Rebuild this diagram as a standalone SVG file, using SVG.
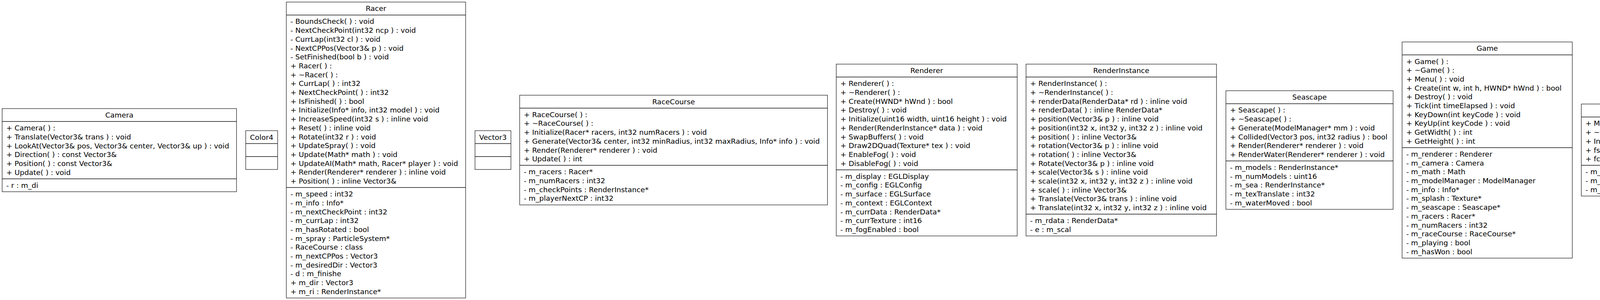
<svg xmlns="http://www.w3.org/2000/svg" width="6464" height="768" viewBox="0 0 6464 768">
<style>
.box{fill:#fff;stroke:#222;stroke-width:1.3}
.sep{stroke:#111;stroke-width:1.5}
text{font-family:"DejaVu Sans","Noto Sans",sans-serif;font-size:18.4px;fill:#000}
.title{text-anchor:middle}
</style>
<rect x="0" y="0" width="6464" height="768" fill="#fff"/>

<g id="Camera">
<rect class="box" x="5.5" y="278" width="600" height="212.8"/>
<line class="sep" x1="5.5" y1="311.1" x2="605.5" y2="311.1"/>
<line class="sep" x1="5.5" y1="457.7" x2="605.5" y2="457.7"/>
<text class="title" x="305.5" y="301">Camera</text>
<text x="16" y="334.1"><tspan x="16">+ Camera( ) :</tspan><tspan x="16" dy="22.7">+ Translate(Vector3&amp; trans ) : void</tspan><tspan x="16" dy="22.7">+ LookAt(Vector3&amp; pos, Vector3&amp; center, Vector3&amp; up ) : void</tspan><tspan x="16" dy="22.7">+ Direction( ) : const Vector3&amp;</tspan><tspan x="16" dy="22.7">+ Position( ) : const Vector3&amp;</tspan><tspan x="16" dy="22.7">+ Update( ) : void</tspan></text>
<text x="16" y="480.7">- r : m_di</text>
</g>

<g id="Color4">
<rect class="box" x="629" y="334.5" width="81.7" height="99.3"/>
<line class="sep" x1="629" y1="367.6" x2="710.7" y2="367.6"/>
<line class="sep" x1="629" y1="400.7" x2="710.7" y2="400.7"/>
<text class="title" x="669.85" y="357.5">Color4</text>
</g>

<g id="Racer">
<rect class="box" x="733" y="5.3" width="459" height="757.6"/>
<line class="sep" x1="733" y1="38.4" x2="1192" y2="38.4"/>
<line class="sep" x1="733" y1="480.1" x2="1192" y2="480.1"/>
<text class="title" x="962.5" y="28.3">Racer</text>
<text x="743.5" y="61.4"><tspan x="743.5">- BoundsCheck( ) : void</tspan><tspan x="743.5" dy="22.7">- NextCheckPoint(int32 ncp ) : void</tspan><tspan x="743.5" dy="22.7">- CurrLap(int32 cl ) : void</tspan><tspan x="743.5" dy="22.7">- NextCPPos(Vector3&amp; p ) : void</tspan><tspan x="743.5" dy="22.7">- SetFinished(bool b ) : void</tspan><tspan x="743.5" dy="22.7">+ Racer( ) :</tspan><tspan x="743.5" dy="22.7">+ ~Racer( ) :</tspan><tspan x="743.5" dy="22.7">+ CurrLap( ) : int32</tspan><tspan x="743.5" dy="22.7">+ NextCheckPoint( ) : int32</tspan><tspan x="743.5" dy="22.7">+ IsFinished( ) : bool</tspan><tspan x="743.5" dy="22.7">+ Initialize(Info* info, int32 model ) : void</tspan><tspan x="743.5" dy="22.7">+ IncreaseSpeed(int32 s ) : inline void</tspan><tspan x="743.5" dy="22.7">+ Reset( ) : inline void</tspan><tspan x="743.5" dy="22.7">+ Rotate(int32 r ) : void</tspan><tspan x="743.5" dy="22.7">+ UpdateSpray( ) : void</tspan><tspan x="743.5" dy="22.7">+ Update(Math* math ) : void</tspan><tspan x="743.5" dy="22.7">+ UpdateAI(Math* math, Racer* player ) : void</tspan><tspan x="743.5" dy="22.7">+ Render(Renderer* renderer ) : inline void</tspan><tspan x="743.5" dy="22.7">+ Position( ) : inline Vector3&amp;</tspan></text>
<text x="743.5" y="503.1"><tspan x="743.5">- m_speed : int32</tspan><tspan x="743.5" dy="22.7">- m_info : Info*</tspan><tspan x="743.5" dy="22.7">- m_nextCheckPoint : int32</tspan><tspan x="743.5" dy="22.7">- m_currLap : int32</tspan><tspan x="743.5" dy="22.7">- m_hasRotated : bool</tspan><tspan x="743.5" dy="22.7">- m_spray : ParticleSystem*</tspan><tspan x="743.5" dy="22.7">- RaceCourse : class</tspan><tspan x="743.5" dy="22.7">- m_nextCPPos : Vector3</tspan><tspan x="743.5" dy="22.7">- m_desiredDir : Vector3</tspan><tspan x="743.5" dy="22.7">- d : m_finishe</tspan><tspan x="743.5" dy="22.7">+ m_dir : Vector3</tspan><tspan x="743.5" dy="22.7">+ m_ri : RenderInstance*</tspan></text>
</g>

<g id="Vector3">
<rect class="box" x="1216" y="334.5" width="92" height="99.3"/>
<line class="sep" x1="1216" y1="367.6" x2="1308" y2="367.6"/>
<line class="sep" x1="1216" y1="400.7" x2="1308" y2="400.7"/>
<text class="title" x="1262" y="357.5">Vector3</text>
</g>

<g id="RaceCourse">
<rect class="box" x="1330.4" y="243.65" width="788" height="280.9"/>
<line class="sep" x1="1330.4" y1="276.75" x2="2118.4" y2="276.75"/>
<line class="sep" x1="1330.4" y1="423.35" x2="2118.4" y2="423.35"/>
<text class="title" x="1724.4" y="266.65">RaceCourse</text>
<text x="1340.9" y="299.75"><tspan x="1340.9">+ RaceCourse( ) :</tspan><tspan x="1340.9" dy="22.7">+ ~RaceCourse( ) :</tspan><tspan x="1340.9" dy="22.7">+ Initialize(Racer* racers, int32 numRacers ) : void</tspan><tspan x="1340.9" dy="22.7">+ Generate(Vector3&amp; center, int32 minRadius, int32 maxRadius, Info* info ) : void</tspan><tspan x="1340.9" dy="22.7">+ Render(Renderer* renderer ) : void</tspan><tspan x="1340.9" dy="22.7">+ Update( ) : int</tspan></text>
<text x="1340.9" y="446.35"><tspan x="1340.9">- m_racers : Racer*</tspan><tspan x="1340.9" dy="22.7">- m_numRacers : int32</tspan><tspan x="1340.9" dy="22.7">- m_checkPoints : RenderInstance*</tspan><tspan x="1340.9" dy="22.7">- m_playerNextCP : int32</tspan></text>
</g>

<g id="Renderer">
<rect class="box" x="2140.8" y="164.2" width="463.2" height="439.8"/>
<line class="sep" x1="2140.8" y1="197.3" x2="2604" y2="197.3"/>
<line class="sep" x1="2140.8" y1="434.7" x2="2604" y2="434.7"/>
<text class="title" x="2372.4" y="187.2">Renderer</text>
<text x="2151.3" y="220.3"><tspan x="2151.3">+ Renderer( ) :</tspan><tspan x="2151.3" dy="22.7">+ ~Renderer( ) :</tspan><tspan x="2151.3" dy="22.7">+ Create(HWND* hWnd ) : bool</tspan><tspan x="2151.3" dy="22.7">+ Destroy( ) : void</tspan><tspan x="2151.3" dy="22.7">+ Initialize(uint16 width, uint16 height ) : void</tspan><tspan x="2151.3" dy="22.7">+ Render(RenderInstance* data ) : void</tspan><tspan x="2151.3" dy="22.7">+ SwapBuffers( ) : void</tspan><tspan x="2151.3" dy="22.7">+ Draw2DQuad(Texture* tex ) : void</tspan><tspan x="2151.3" dy="22.7">+ EnableFog( ) : void</tspan><tspan x="2151.3" dy="22.7">+ DisableFog( ) : void</tspan></text>
<text x="2151.3" y="457.7"><tspan x="2151.3">- m_display : EGLDisplay</tspan><tspan x="2151.3" dy="22.7">- m_config : EGLConfig</tspan><tspan x="2151.3" dy="22.7">- m_surface : EGLSurface</tspan><tspan x="2151.3" dy="22.7">- m_context : EGLContext</tspan><tspan x="2151.3" dy="22.7">- m_currData : RenderData*</tspan><tspan x="2151.3" dy="22.7">- m_currTexture : int16</tspan><tspan x="2151.3" dy="22.7">- m_fogEnabled : bool</tspan></text>
</g>

<g id="RenderInstance">
<rect class="box" x="2626.6" y="164.2" width="487.7" height="439.8"/>
<line class="sep" x1="2626.6" y1="197.3" x2="3114.3" y2="197.3"/>
<line class="sep" x1="2626.6" y1="548.2" x2="3114.3" y2="548.2"/>
<text class="title" x="2870.45" y="187.2">RenderInstance</text>
<text x="2637.1" y="220.3"><tspan x="2637.1">+ RenderInstance( ) :</tspan><tspan x="2637.1" dy="22.7">+ ~RenderInstance( ) :</tspan><tspan x="2637.1" dy="22.7">+ renderData(RenderData* rd ) : inline void</tspan><tspan x="2637.1" dy="22.7">+ renderData( ) : inline RenderData*</tspan><tspan x="2637.1" dy="22.7">+ position(Vector3&amp; p ) : inline void</tspan><tspan x="2637.1" dy="22.7">+ position(int32 x, int32 y, int32 z ) : inline void</tspan><tspan x="2637.1" dy="22.7">+ position( ) : inline Vector3&amp;</tspan><tspan x="2637.1" dy="22.7">+ rotation(Vector3&amp; p ) : inline void</tspan><tspan x="2637.1" dy="22.7">+ rotation( ) : inline Vector3&amp;</tspan><tspan x="2637.1" dy="22.7">+ Rotate(Vector3&amp; p ) : inline void</tspan><tspan x="2637.1" dy="22.7">+ scale(Vector3&amp; s ) : inline void</tspan><tspan x="2637.1" dy="22.7">+ scale(int32 x, int32 y, int32 z ) : inline void</tspan><tspan x="2637.1" dy="22.7">+ scale( ) : inline Vector3&amp;</tspan><tspan x="2637.1" dy="22.7">+ Translate(Vector3&amp; trans ) : inline void</tspan><tspan x="2637.1" dy="22.7">+ Translate(int32 x, int32 y, int32 z ) : inline void</tspan></text>
<text x="2637.1" y="571.2"><tspan x="2637.1">- m_rdata : RenderData*</tspan><tspan x="2637.1" dy="22.7">- e : m_scal</tspan></text>
</g>

<g id="Seascape">
<rect class="box" x="3138.3" y="232.3" width="428.1" height="303.6"/>
<line class="sep" x1="3138.3" y1="265.4" x2="3566.4" y2="265.4"/>
<line class="sep" x1="3138.3" y1="412" x2="3566.4" y2="412"/>
<text class="title" x="3352.35" y="255.3">Seascape</text>
<text x="3148.8" y="288.4"><tspan x="3148.8">+ Seascape( ) :</tspan><tspan x="3148.8" dy="22.7">+ ~Seascape( ) :</tspan><tspan x="3148.8" dy="22.7">+ Generate(ModelManager* mm ) : void</tspan><tspan x="3148.8" dy="22.7">+ Collided(Vector3 pos, int32 radius ) : bool</tspan><tspan x="3148.8" dy="22.7">+ Render(Renderer* renderer ) : void</tspan><tspan x="3148.8" dy="22.7">+ RenderWater(Renderer* renderer ) : void</tspan></text>
<text x="3148.8" y="435"><tspan x="3148.8">- m_models : RenderInstance*</tspan><tspan x="3148.8" dy="22.7">- m_numModels : uint16</tspan><tspan x="3148.8" dy="22.7">- m_sea : RenderInstance*</tspan><tspan x="3148.8" dy="22.7">- m_texTranslate : int32</tspan><tspan x="3148.8" dy="22.7">- m_waterMoved : bool</tspan></text>
</g>

<g id="Game">
<rect class="box" x="3589.4" y="107.45" width="435.7" height="553.3"/>
<line class="sep" x1="3589.4" y1="140.55" x2="4025.1" y2="140.55"/>
<line class="sep" x1="3589.4" y1="377.95" x2="4025.1" y2="377.95"/>
<text class="title" x="3807.25" y="130.45">Game</text>
<text x="3599.9" y="163.55"><tspan x="3599.9">+ Game( ) :</tspan><tspan x="3599.9" dy="22.7">+ ~Game( ) :</tspan><tspan x="3599.9" dy="22.7">+ Menu( ) : void</tspan><tspan x="3599.9" dy="22.7">+ Create(int w, int h, HWND* hWnd ) : bool</tspan><tspan x="3599.9" dy="22.7">+ Destroy( ) : void</tspan><tspan x="3599.9" dy="22.7">+ Tick(int timeElapsed ) : void</tspan><tspan x="3599.9" dy="22.7">+ KeyDown(int keyCode ) : void</tspan><tspan x="3599.9" dy="22.7">+ KeyUp(int keyCode ) : void</tspan><tspan x="3599.9" dy="22.7">+ GetWidth( ) : int</tspan><tspan x="3599.9" dy="22.7">+ GetHeight( ) : int</tspan></text>
<text x="3599.9" y="400.95"><tspan x="3599.9">- m_renderer : Renderer</tspan><tspan x="3599.9" dy="22.7">- m_camera : Camera</tspan><tspan x="3599.9" dy="22.7">- m_math : Math</tspan><tspan x="3599.9" dy="22.7">- m_modelManager : ModelManager</tspan><tspan x="3599.9" dy="22.7">- m_info : Info*</tspan><tspan x="3599.9" dy="22.7">- m_splash : Texture*</tspan><tspan x="3599.9" dy="22.7">- m_seascape : Seascape*</tspan><tspan x="3599.9" dy="22.7">- m_racers : Racer*</tspan><tspan x="3599.9" dy="22.7">- m_numRacers : int32</tspan><tspan x="3599.9" dy="22.7">- m_raceCourse : RaceCourse*</tspan><tspan x="3599.9" dy="22.7">- m_playing : bool</tspan><tspan x="3599.9" dy="22.7">- m_hasWon : bool</tspan></text>
</g>

<g id="Math">
<rect class="box" x="4048.2" y="266.35" width="294.3" height="235.5"/>
<line class="sep" x1="4048.2" y1="299.45" x2="4342.5" y2="299.45"/>
<line class="sep" x1="4048.2" y1="423.35" x2="4342.5" y2="423.35"/>
<text class="title" x="4195.35" y="289.35">Math</text>
<text x="4058.7" y="322.45"><tspan x="4058.7">+ Math( ) :</tspan><tspan x="4058.7" dy="22.7">+ ~Math( ) :</tspan><tspan x="4058.7" dy="22.7">+ Initialize( ) : void</tspan><tspan x="4058.7" dy="22.7">+ fsinf(int32 f ) : inline int32</tspan><tspan x="4058.7" dy="22.7">+ fcosf(int32 f ) : inline int32</tspan></text>
<text x="4058.7" y="446.35"><tspan x="4058.7">- m_sinTable : int32*</tspan><tspan x="4058.7" dy="22.7">- m_cosTable : int32*</tspan><tspan x="4058.7" dy="22.7">- m_accuracy : float</tspan></text>
</g>

<g id="RenderDataManager">
<rect class="box" x="4365.5" y="277.7" width="572.9" height="212.8"/>
<line class="sep" x1="4365.5" y1="310.8" x2="4938.4" y2="310.8"/>
<line class="sep" x1="4365.5" y1="457.4" x2="4938.4" y2="457.4"/>
<text class="title" x="4651.95" y="300.7">RenderDataManager</text>
<text x="4376" y="333.8"><tspan x="4376">+ RenderDataManager( ) :</tspan><tspan x="4376" dy="22.7">+ ~RenderDataManager( ) :</tspan><tspan x="4376" dy="22.7">+ AddData(RenderData* data ) : inline void</tspan><tspan x="4376" dy="22.7">+ GetData(RenderData* desiredData ) : inline RenderData*</tspan><tspan x="4376" dy="22.7">+ ReleaseData(RenderData* data ) : inline void</tspan><tspan x="4376" dy="22.7">+ ClearData(RenderData* data ) : inline void</tspan></text>
<text x="4376" y="480.4">- m_renderDataList : RenderData*</text>
</g>

<g id="Texture">
<rect class="box" x="4962.4" y="289.05" width="252.3" height="190.1"/>
<line class="sep" x1="4962.4" y1="322.15" x2="5214.7" y2="322.15"/>
<line class="sep" x1="4962.4" y1="446.05" x2="5214.7" y2="446.05"/>
<text class="title" x="5088.55" y="312.05">Texture</text>
<text x="4972.9" y="345.15"><tspan x="4972.9">+ Texture( ) :</tspan><tspan x="4972.9" dy="22.7">+ ~Texture( ) :</tspan><tspan x="4972.9" dy="22.7">+ id( ) : inline GLuint</tspan><tspan x="4972.9" dy="22.7">+ Load(uint16 id ) : void</tspan><tspan x="4972.9" dy="22.7">+ Bind( ) : inline void</tspan></text>
<text x="4972.9" y="469.05">- m_id : GLuint</text>
</g>

<g id="ParticleSystem">
<rect class="box" x="5237.7" y="209.6" width="749.3" height="349"/>
<line class="sep" x1="5237.7" y1="242.7" x2="5987" y2="242.7"/>
<line class="sep" x1="5237.7" y1="434.7" x2="5987" y2="434.7"/>
<text class="title" x="5612.35" y="232.6">ParticleSystem</text>
<text x="5248.2" y="265.7"><tspan x="5248.2">+ ParticleSystem( ) :</tspan><tspan x="5248.2" dy="22.7">+ ~ParticleSystem( ) :</tspan><tspan x="5248.2" dy="22.7">+ Move(Vector3&amp; newEmitPoint ) : void</tspan><tspan x="5248.2" dy="22.7">+ Redirect(Vector3&amp; dir ) : void</tspan><tspan x="5248.2" dy="22.7">+ ResetParticle(int index ) : void</tspan><tspan x="5248.2" dy="22.7">+ Initialize(int32 numParticles, int32 maxLife, Vector3 pos, Vector3 dir ) : void</tspan><tspan x="5248.2" dy="22.7">+ Render( ) : void</tspan><tspan x="5248.2" dy="22.7">+ Update( ) : void</tspan></text>
<text x="5248.2" y="457.7"><tspan x="5248.2">- m_particles : Particle*</tspan><tspan x="5248.2" dy="22.7">- m_numParticles : int32</tspan><tspan x="5248.2" dy="22.7">- m_maxLife : int32</tspan><tspan x="5248.2" dy="22.7">- m_emitPoint : Vector3</tspan><tspan x="5248.2" dy="22.7">- m_dir : Vector3</tspan></text>
</g>

<g id="ModelManager">
<rect class="box" x="6010.7" y="232.3" width="449.3" height="303.6"/>
<line class="sep" x1="6010.7" y1="265.4" x2="6460" y2="265.4"/>
<line class="sep" x1="6010.7" y1="502.8" x2="6460" y2="502.8"/>
<text class="title" x="6235.35" y="255.3">ModelManager</text>
<text x="6021.2" y="288.4"><tspan x="6021.2">+ ModelManager( ) :</tspan><tspan x="6021.2" dy="22.7">+ ~ModelManager( ) :</tspan><tspan x="6021.2" dy="22.7">+ Initialize( ) : void</tspan><tspan x="6021.2" dy="22.7">+ GetBoat1( ) : RenderData*</tspan><tspan x="6021.2" dy="22.7">+ GetBoat2( ) : RenderData*</tspan><tspan x="6021.2" dy="22.7">+ GetChest( ) : RenderData*</tspan><tspan x="6021.2" dy="22.7">+ GetRandomSeascapeModel( ) : RenderData*</tspan><tspan x="6021.2" dy="22.7">+ GetIsland1( ) : RenderData*</tspan><tspan x="6021.2" dy="22.7">+ GetIsland2( ) : RenderData*</tspan><tspan x="6021.2" dy="22.7">+ GetCheckPoint( ) : RenderData*</tspan></text>
</g>
</svg>
